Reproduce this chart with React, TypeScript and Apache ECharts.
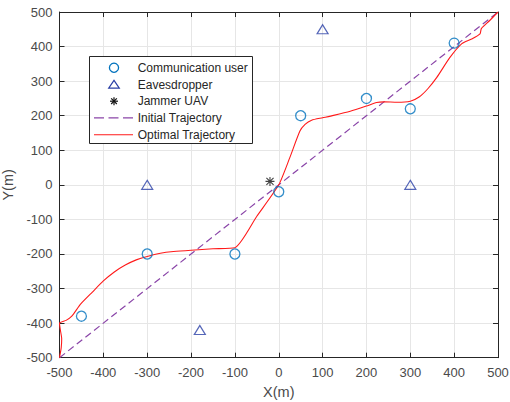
import React, { useEffect, useRef } from "react";
import * as echarts from "echarts";

const commUsers: [number, number][] = [
  [-450, -380], [-300, -200], [-100, -200], [0, -20],
  [50, 200], [200, 250], [300, 220], [400, 410],
];

const eavesdroppers: [number, number][] = [
  [-300, 0], [100, 450], [300, 0], [-180, -420],
];

const jammer: [number, number][] = [[-20, 10]];

const initialTrajectory: [number, number][] = [[-500, -500], [500, 500]];

const optimalTrajectory: [number, number][] = [
  [-500, -500], [-496, -470], [-495, -445], [-498, -420], [-500, -400],
  [-485, -392], [-472, -380], [-452, -345], [-425, -310], [-400, -278],
  [-375, -252], [-350, -232], [-325, -217], [-300, -207], [-270, -198],
  [-240, -193], [-200, -189], [-150, -185], [-100, -182], [-50, -91],
  [0, 0], [25, 78], [48, 155], [60, 175], [75, 187], [100, 194],
  [125, 201], [163, 213], [200, 228], [223, 238], [240, 240], [270, 239],
  [300, 242], [320, 254], [340, 278], [360, 310], [390, 368], [417, 408],
  [440, 422], [459, 437], [462, 452], [480, 474], [500, 500],
];

const legendNames = [
  "Communication user",
  "Eavesdropper",
  "Jammer UAV",
  "Initial Trajectory",
  "Optimal Trajectory",
];

const ASTERISK =
  "path://M8.8 0H11.2V20H8.8Z M0 8.8H20V11.2H0Z M1.2 2.9L2.9 1.2L18.8 17.1L17.1 18.8Z M17.1 1.2L18.8 2.9L2.9 18.8L1.2 17.1Z";

const FONT = "Liberation Sans, Arial, sans-serif";
const AXIS_COLOR = "#262626";
const LABEL_COLOR = "#4a4a4a";
const BLUE = "#0072BD";
const TRI = "#2b40a6";
const PURPLE = "#8a45a8";
const RED = "#ff1a1a";

export default function App() {
  const ref = useRef<HTMLDivElement>(null);

  useEffect(() => {
    if (!ref.current) return;
    const chart = echarts.init(ref.current, undefined, { renderer: "svg" });

    const baseAxis = {
      type: "value" as const,
      min: -500,
      max: 500,
      interval: 100,
      axisLine: { show: true, onZero: false, lineStyle: { color: AXIS_COLOR, width: 1 } },
      axisTick: { show: true, inside: true, length: 5, lineStyle: { color: AXIS_COLOR } },
    };

    // legend layout (pixels)
    const lx = 89.5, ly = 56.5, lw = 163, lh = 87;
    const mx = 114;
    const rows = [67.7, 84.6, 101.2, 117.8, 134.7];
    const tx = 137.7;
    const Z = 100;

    const asteriskLines = (cx: number, cy: number, r: number) => {
      const d = r * 0.7071;
      return [
        [cx - r, cy, cx + r, cy],
        [cx, cy - r, cx, cy + r],
        [cx - d, cy - d, cx + d, cy + d],
        [cx - d, cy + d, cx + d, cy - d],
      ].map(([x1, y1, x2, y2]) => ({
        type: "line",
        z: Z + 1,
        shape: { x1, y1, x2, y2 },
        style: { stroke: "#111111", lineWidth: 1.2 },
        silent: true,
      }));
    };

    const legendGraphics: any[] = [
      {
        type: "rect",
        z: Z,
        shape: { x: lx, y: ly, width: lw, height: lh },
        style: { fill: "#ffffff", stroke: AXIS_COLOR, lineWidth: 1 },
        silent: true,
      },
      {
        type: "circle",
        z: Z + 1,
        shape: { cx: mx, cy: rows[0], r: 4.6 },
        style: { fill: "none", stroke: BLUE, lineWidth: 1.3 },
        silent: true,
      },
      {
        type: "polygon",
        z: Z + 1,
        shape: { points: [[mx - 5.3, rows[1] + 3.6], [mx + 5.3, rows[1] + 3.6], [mx, rows[1] - 4.2]] },
        style: { fill: "none", stroke: TRI, lineWidth: 1.2 },
        silent: true,
      },
      ...asteriskLines(mx, rows[2], 4),
      {
        type: "line",
        z: Z + 1,
        shape: { x1: 94, y1: rows[3], x2: 133, y2: rows[3] },
        style: { stroke: PURPLE, lineWidth: 1.2, lineDash: [10, 4.5] },
        silent: true,
      },
      {
        type: "line",
        z: Z + 1,
        shape: { x1: 94, y1: rows[4], x2: 133, y2: rows[4] },
        style: { stroke: RED, lineWidth: 1.1 },
        silent: true,
      },
      ...legendNames.map((name, i) => ({
        type: "text",
        z: Z + 1,
        x: tx,
        y: rows[i],
        style: {
          text: name,
          fontSize: 12,
          fontFamily: FONT,
          fill: "#262626",
          verticalAlign: "middle",
          align: "left",
        },
        silent: true,
      })),
    ];

    chart.setOption({
      animation: false,
      backgroundColor: "#ffffff",
      textStyle: { fontFamily: FONT },
      grid: {
        left: 59.5,
        right: 12,
        top: 12,
        bottom: 44.3,
        containLabel: false,
        outerBoundsMode: "none",
      },
      xAxis: [
        {
          ...baseAxis,
          position: "bottom",
          name: "X(m)",
          nameLocation: "middle",
          nameGap: 27,
          nameTextStyle: { fontSize: 14.5, color: LABEL_COLOR, fontFamily: FONT },
          axisLabel: { fontSize: 13, color: LABEL_COLOR, margin: 8, fontFamily: FONT },
          splitLine: { show: true, lineStyle: { color: "#e6e6e6", width: 1 } },
        },
        {
          ...baseAxis,
          position: "top",
          axisLabel: { show: false },
          splitLine: { show: false },
        },
      ],
      yAxis: [
        {
          ...baseAxis,
          position: "left",
          name: "Y(m)",
          nameLocation: "middle",
          nameGap: 40,
          nameTextStyle: { fontSize: 14.5, color: LABEL_COLOR, fontFamily: FONT },
          axisLabel: { fontSize: 13, color: LABEL_COLOR, margin: 7, fontFamily: FONT },
          splitLine: { show: true, lineStyle: { color: "#e6e6e6", width: 1 } },
        },
        {
          ...baseAxis,
          position: "right",
          axisLabel: { show: false },
          splitLine: { show: false },
        },
      ],
      legend: { show: false, data: legendNames },
      graphic: legendGraphics,
      series: [
        {
          name: "Initial Trajectory",
          type: "line",
          data: initialTrajectory,
          symbol: "none",
          lineStyle: { color: PURPLE, width: 1.2, type: [7, 4] },
          itemStyle: { color: PURPLE },
          z: 2,
        },
        {
          name: "Optimal Trajectory",
          type: "line",
          data: optimalTrajectory,
          symbol: "none",
          smooth: 0.2,
          lineStyle: { color: RED, width: 1.1 },
          itemStyle: { color: RED },
          z: 3,
        },
        {
          name: "Communication user",
          type: "scatter",
          data: commUsers,
          symbol: "circle",
          symbolSize: 10,
          itemStyle: { color: "rgba(255,255,255,0)", borderColor: BLUE, borderWidth: 1.3 },
          z: 4,
        },
        {
          name: "Eavesdropper",
          type: "scatter",
          data: eavesdroppers,
          symbol: "triangle",
          symbolSize: [11, 9],
          itemStyle: { color: "rgba(255,255,255,0)", borderColor: TRI, borderWidth: 1.2 },
          z: 4,
        },
        {
          name: "Jammer UAV",
          type: "scatter",
          data: jammer,
          symbol: ASTERISK,
          symbolSize: 9,
          itemStyle: { color: "#111111" },
          z: 5,
        },
      ],
    });

    return () => chart.dispose();
  }, []);

  return (
    <div
      ref={ref}
      style={{ position: "fixed", left: 0, top: 0, width: 510, height: 402 }}
    />
  );
}
